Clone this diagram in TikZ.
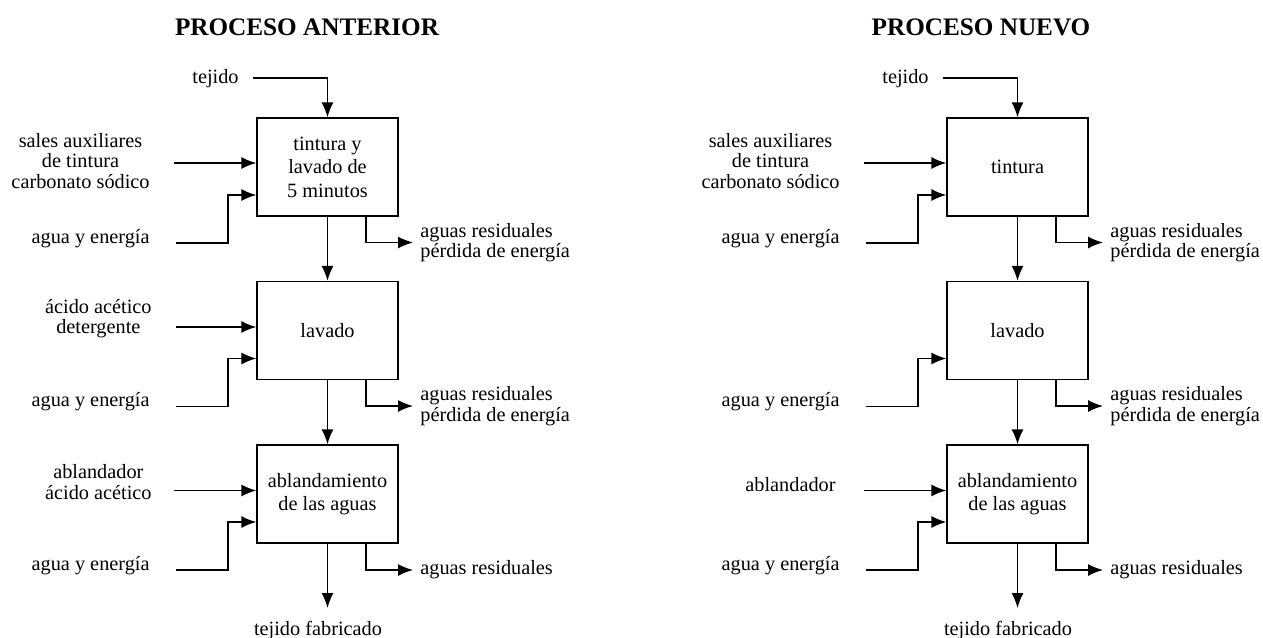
\documentclass[tikz,border=0pt]{standalone}
\usepackage{fontspec}
\setmainfont{Liberation Serif}
\usetikzlibrary{arrows.meta,calc}

\begin{document}
\begin{tikzpicture}[x=0.5pt,y=0.5pt,yscale=-1,xscale=1,
  flecha/.style={line width=0.7pt,-{Latex[length=7.5pt,width=6pt]}},
  caja/.style={draw,line width=0.7pt,minimum width=70.5pt,minimum height=49pt,inner sep=0pt,align=center,font=\fontsize{10.15}{11.8}\selectfont},
  etiq/.style={inner sep=0pt,align=center,font=\fontsize{10.15}{10.2}\selectfont},
  salida/.style={etiq,align=left,inner xsep=3.5pt},
  titulo/.style={inner sep=0pt,font=\fontsize{12.6}{14}\selectfont\bfseries}]
\useasboundingbox (0,0) rectangle (1263,637);

% Text Node
\node[titulo,anchor=base] (tit1) at (307,35) {PROCESO ANTERIOR};
% Text Node
\node[titulo,anchor=base] (tit2) at (981,35) {PROCESO NUEVO};

%Shape: Rectangle
\node[caja] (a1) at (327.5,167) {tintura y\\lavado de\\5 minutos};
%Shape: Rectangle
\node[caja] (a2) at (327.5,330.5) {lavado};
%Shape: Rectangle
\node[caja] (a3) at (327.5,494) {ablandamiento\\de las aguas};
%Shape: Rectangle
\node[caja] (b1) at (1017.5,167) {tintura};
%Shape: Rectangle
\node[caja] (b2) at (1017.5,330.5) {lavado};
%Shape: Rectangle
\node[caja] (b3) at (1017.5,494) {ablandamiento\\de las aguas};

% Text Node
\node[etiq,anchor=base east] (tej1) at (239,83) {tejido};
\node[etiq,anchor=east] (sal1) at (150,161) {sales auxiliares\\de tintura\\carbonato sódico};
\node[etiq,anchor=base east] (agu1) at (150,243) {agua y energía};
\node[salida,anchor=west] (res1) at (413,242.5) {aguas residuales\\pérdida de energía};
\node[etiq,anchor=east] (aci2) at (152,318.5) {ácido acético\\detergente};
\node[etiq,anchor=base east] (agu2) at (150,406.5) {agua y energía};
\node[salida,anchor=west] (res2) at (413,406) {aguas residuales\\pérdida de energía};
\node[etiq,anchor=east] (abl3) at (152,482) {ablandador\\ácido acético};
\node[etiq,anchor=base east] (agu3) at (150,570) {agua y energía};
\node[salida,anchor=west] (res3) at (413,570) {aguas residuales};
\node[etiq,anchor=base] (fin1) at (318,635) {tejido fabricado};

% Text Node
\node[etiq,anchor=base east] (tej2) at (929,83) {tejido};
\node[etiq,anchor=east] (sal2) at (840,161) {sales auxiliares\\de tintura\\carbonato sódico};
\node[etiq,anchor=base east] (agu4) at (840,243) {agua y energía};
\node[salida,anchor=west] (res4) at (1103,242.5) {aguas residuales\\pérdida de energía};
\node[etiq,anchor=base east] (agu5) at (840,406.5) {agua y energía};
\node[salida,anchor=west] (res5) at (1103,406) {aguas residuales\\pérdida de energía};
\node[etiq,anchor=base east] (abl6) at (836,491) {ablandador};
\node[etiq,anchor=base east] (agu6) at (840,570) {agua y energía};
\node[salida,anchor=west] (res6) at (1103,570) {aguas residuales};
\node[etiq,anchor=base] (fin2) at (1008,635) {tejido fabricado};

\coordinate (c-tej1) at (253,78);
\coordinate (c-sal1) at (174,163);
\coordinate (c-agu1) at (176,243);
\coordinate (c-aci2) at (176,327);
\coordinate (c-agu2) at (176,406.5);
\coordinate (c-abl3) at (174,490.5);
\coordinate (c-agu3) at (176,570);
\coordinate (c-fin1) at (327.5,608);
\coordinate (c-tej2) at (943,78);
\coordinate (c-sal2) at (864,163);
\coordinate (c-agu4) at (866,243);
\coordinate (c-agu5) at (866,406.5);
\coordinate (c-abl6) at (864,490.5);
\coordinate (c-agu6) at (866,570);
\coordinate (c-fin2) at (1017.5,608);

%Straight Lines (proceso anterior)
\draw[flecha] (c-tej1) -| (a1);
\draw[flecha] (c-sal1) -- (c-sal1 -| a1.west);
\draw[flecha] (c-agu1) -| ++(52,-48) -- ($(a1.west)+(0,28)$);
\draw[flecha] ($(a1.south)+(38.5,0)$) |- (res1);
\draw[flecha] (a1) -- (a2);
\draw[flecha] (c-aci2) -- (c-aci2 -| a2.west);
\draw[flecha] (c-agu2) -| ++(52,-48) -- ($(a2.west)+(0,28)$);
\draw[flecha] ($(a2.south)+(38.5,0)$) |- (res2);
\draw[flecha] (a2) -- (a3);
\draw[flecha] (c-abl3) -- (c-abl3 -| a3.west);
\draw[flecha] (c-agu3) -| ++(52,-48) -- ($(a3.west)+(0,28)$);
\draw[flecha] ($(a3.south)+(38.5,0)$) |- (res3);
\draw[flecha] (a3) -- (c-fin1);

%Straight Lines (proceso nuevo)
\draw[flecha] (c-tej2) -| (b1);
\draw[flecha] (c-sal2) -- (c-sal2 -| b1.west);
\draw[flecha] (c-agu4) -| ++(52,-48) -- ($(b1.west)+(0,28)$);
\draw[flecha] ($(b1.south)+(38.5,0)$) |- (res4);
\draw[flecha] (b1) -- (b2);
\draw[flecha] (c-agu5) -| ++(52,-48) -- ($(b2.west)+(0,28)$);
\draw[flecha] ($(b2.south)+(38.5,0)$) |- (res5);
\draw[flecha] (b2) -- (b3);
\draw[flecha] (c-abl6) -- (c-abl6 -| b3.west);
\draw[flecha] (c-agu6) -| ++(52,-48) -- ($(b3.west)+(0,28)$);
\draw[flecha] ($(b3.south)+(38.5,0)$) |- (res6);
\draw[flecha] (b3) -- (c-fin2);

\end{tikzpicture}
\end{document}
